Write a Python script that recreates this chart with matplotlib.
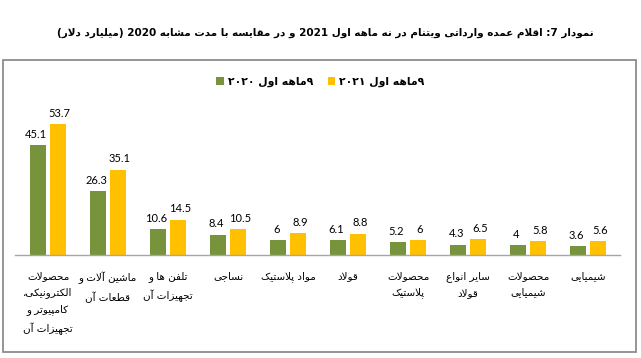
import matplotlib
matplotlib.use("Agg")
import matplotlib.pyplot as plt
from matplotlib.patches import Rectangle
import numpy as np

# داده ها (میلیارد دلار)
categories = [
    "محصولات\nالکترونیکی،\nکامپیوتر و\nتجهیزات آن",
    "ماشین آلات و\nقطعات آن",
    "تلفن ها و\nتجهیزات آن",
    "نساجی",
    "مواد پلاستیک",
    "قولاد",
    "محصولات\nپلاستیک",
    "سایر انواع\nقولاد",
    "محصولات\nشیمیایی",
    "شیمیایی",
]
values_2020 = [45.1, 26.3, 10.6, 8.4, 6, 6.1, 5.2, 4.3, 4, 3.6]
values_2021 = [53.7, 35.1, 14.5, 10.5, 8.9, 8.8, 6, 6.5, 5.8, 5.6]
label_2020 = "۹ماهه اول ۲۰۲۰"
label_2021 = "۹ماهه اول ۲۰۲۱"
title = "نمودار 7: اقلام عمده وارداتی ویتنام در نه ماهه اول 2021 و در مقایسه با مدت مشابه 2020 (میلیارد دلار)"

GREEN = "#77933C"
YELLOW = "#FFC000"

# --- شکل دهی ساده حروف فارسی (matplotlib خودش اتصال حروف را انجام نمی دهد) ---
DUAL = {
    'ب': 0xFE8F, 'ت': 0xFE95, 'ث': 0xFE99, 'ج': 0xFE9D, 'ح': 0xFEA1, 'خ': 0xFEA5,
    'س': 0xFEB1, 'ش': 0xFEB5, 'ص': 0xFEB9, 'ض': 0xFEBD, 'ط': 0xFEC1, 'ظ': 0xFEC5,
    'ع': 0xFEC9, 'غ': 0xFECD, 'ف': 0xFED1, 'ق': 0xFED5, 'ل': 0xFEDD, 'م': 0xFEE1,
    'ن': 0xFEE5, 'ه': 0xFEE9, 'ي': 0xFEF1,
    'پ': 0xFB56, 'چ': 0xFB7A, 'ک': 0xFB8E, 'گ': 0xFB92, 'ی': 0xFBFC,
}
RIGHT = {'ا': 0xFE8D, 'آ': 0xFE81, 'د': 0xFEA9, 'ذ': 0xFEAB, 'ر': 0xFEAD,
         'ز': 0xFEAF, 'ژ': 0xFB8A, 'و': 0xFEED}
LAM_ALEF = {'ا': (0xFEFB, 0xFEFC), 'آ': (0xFEF5, 0xFEF6)}
MIRROR = str.maketrans("()", ")(")


def shape(s):
    out = []
    i = 0
    while i < len(s):
        c = s[i]
        prev = s[i - 1] if i > 0 else ''
        nxt = s[i + 1] if i + 1 < len(s) else ''
        join_prev = prev in DUAL and (c in DUAL or c in RIGHT)
        if c == 'ل' and nxt in LAM_ALEF:
            iso, fin = LAM_ALEF[nxt]
            out.append(chr(fin if join_prev else iso))
            i += 2
            continue
        if c in DUAL:
            join_next = nxt in DUAL or nxt in RIGHT
            out.append(chr(DUAL[c] + int(join_prev) + 2 * int(join_next)))
        elif c in RIGHT:
            out.append(chr(RIGHT[c] + int(join_prev)))
        else:
            out.append(c)
        i += 1
    return ''.join(out)


def rtl_line(s):
    runs = []
    for c in shape(s):
        ltr = c.isdigit()
        if runs and runs[-1][0] == ltr:
            runs[-1][1] += c
        else:
            runs.append([ltr, c])
    return ''.join(t if ltr else t[::-1].translate(MIRROR) for ltr, t in reversed(runs))


def fa(s):
    return '\n'.join(rtl_line(line) for line in s.split('\n'))


W, H = 641, 358
fig = plt.figure(figsize=(W / 100, H / 100), dpi=100)

# کادر دور نمودار
fig.patches.append(Rectangle((3 / W, 6 / H), 633 / W, 292 / H, transform=fig.transFigure,
                             fill=False, edgecolor="#8c8c8c", linewidth=1.3))

fig.text(0.507, 1 - 33 / H, fa(title), ha="center", va="center",
         fontsize=7.5, fontweight="bold", family="DejaVu Sans")

ax = fig.add_axes([15 / W, 1 - 255 / H, 605 / W, 146 / H])
x = np.arange(len(categories))
bw = 0.267
off = 0.167
b1 = ax.bar(x - off, values_2020, bw, color=GREEN, label=fa(label_2020))
b2 = ax.bar(x + off, values_2021, bw, color=YELLOW, label=fa(label_2021))

for xi, v in zip(x, values_2020):
    ax.text(xi - off - 0.03, v + 2.2, f"{v:g}", ha="center", va="bottom", fontsize=8, family="Lato")
for xi, v in zip(x, values_2021):
    ax.text(xi + off + 0.03, v + 2.2, f"{v:g}", ha="center", va="bottom", fontsize=8, family="Lato")

ax.set_xlim(-0.55, 9.53)
ax.set_ylim(0, 60)
ax.set_yticks([])
ax.set_xticks([])
for s in ["top", "left", "right"]:
    ax.spines[s].set_visible(False)
ax.spines["bottom"].set_color("#a6a6a6")
ax.spines["bottom"].set_linewidth(1)

for xi, name in zip(x, categories):
    ax.text(xi, -6.8, fa(name), ha="center", va="top", fontsize=7.5,
            family="DejaVu Sans", linespacing=1.75)

fig.legend(handles=[b1, b2], loc="center", bbox_to_anchor=(0.50, 1 - 82 / H), ncol=2,
           frameon=False, handlelength=0.7, handleheight=0.7, handletextpad=0.4,
           columnspacing=1.3, prop={"family": "DejaVu Sans", "weight": "bold", "size": 7.8})

fig.savefig("out.png", dpi=100)
